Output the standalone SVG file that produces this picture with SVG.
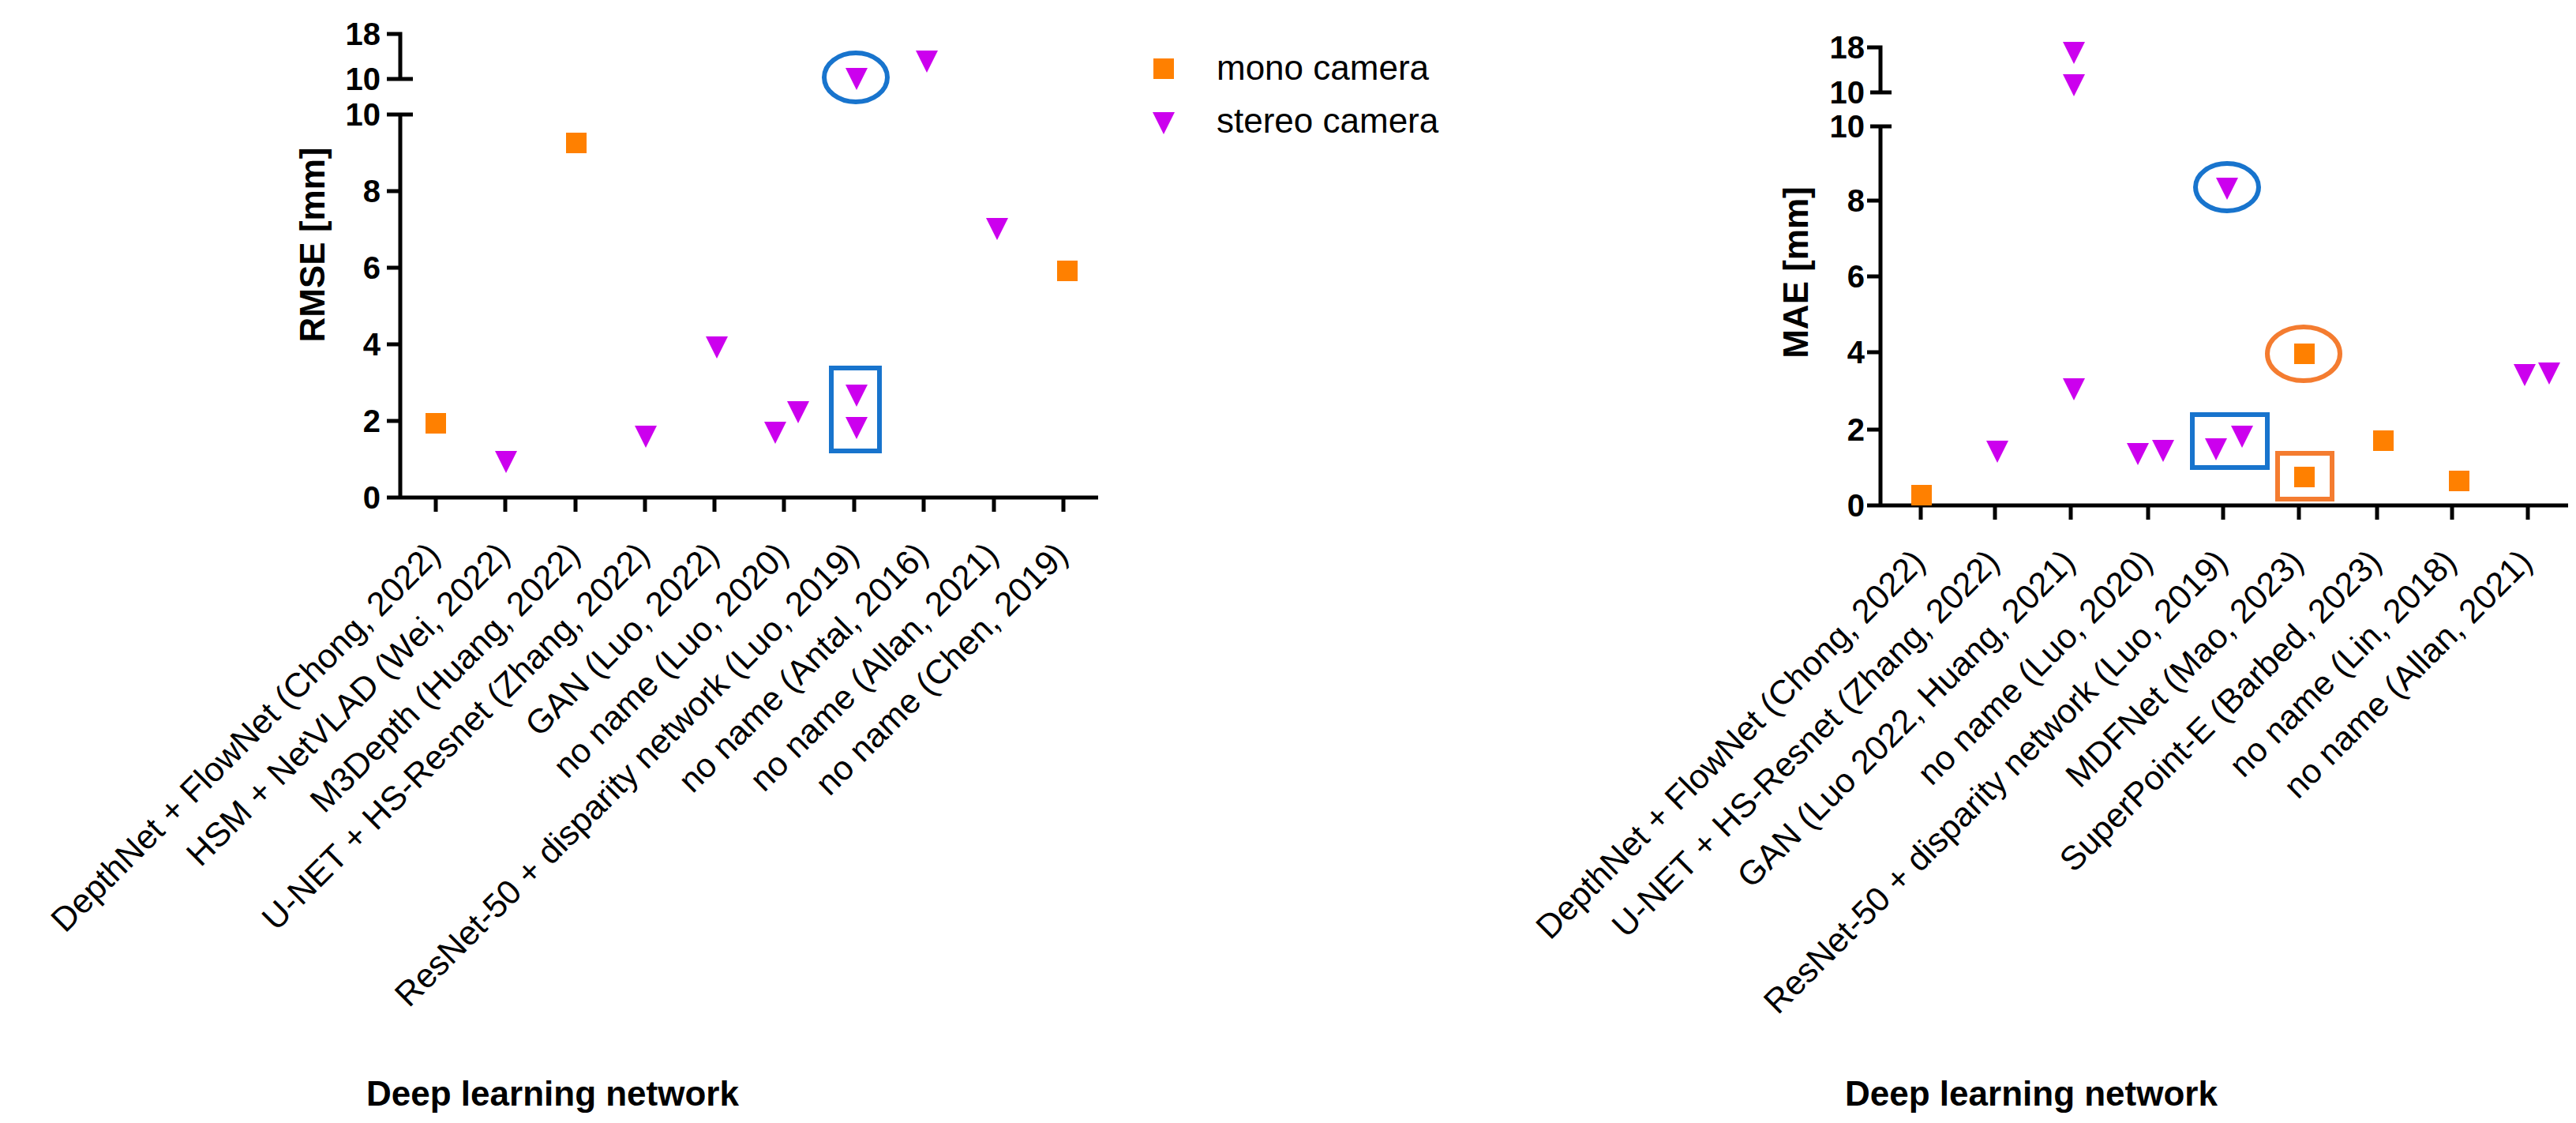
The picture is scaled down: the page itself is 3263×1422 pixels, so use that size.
<svg xmlns="http://www.w3.org/2000/svg" width="3263" height="1422" viewBox="0 0 3263 1422">
<style>
.ax{stroke:#000;stroke-width:5;fill:none}
.tk{font-family:"Liberation Sans",Arial,sans-serif;font-weight:bold;font-size:40px;text-anchor:end}
.xl{font-family:"Liberation Sans",Arial,sans-serif;font-size:43px;text-anchor:end}
.tt{font-family:"Liberation Sans",Arial,sans-serif;font-weight:bold;font-size:44px;text-anchor:middle}
.lg{font-family:"Liberation Sans",Arial,sans-serif;font-size:44px}
.mono{fill:#FF8000}
.st{fill:#CC00EE}
.blue{stroke:#1874CD;stroke-width:6;fill:none}
.org{stroke:#F47C30;stroke-width:6;fill:none}
</style>
<defs>
<rect id="sq" x="-13" y="-13" width="26" height="26" class="mono"/>
<polygon id="tri" points="-14,-13 14,-13 0,15" class="st"/>
</defs>
<rect width="3263" height="1422" fill="#fff"/>
<g id="rmse-chart">
<g id="rmse-axes">
<path class="ax" d="M490,43 H507 V100 M490,100 H523 M490,145 H523 M507,145 V630 H1391 M490,242 H507 M490,339 H507 M490,436 H507 M490,533 H507 M490,630 H507"/>
<path class="ax" d="M552,630 v18 M640,630 v18 M729,630 v18 M817,630 v18 M905,630 v18 M993,630 v18 M1082,630 v18 M1170,630 v18 M1259,630 v18 M1347,630 v18"/>
<text class="tk" x="482" y="57">18</text>
<text class="tk" x="482" y="114">10</text>
<text class="tk" x="482" y="159">10</text>
<text class="tk" x="482" y="256">8</text>
<text class="tk" x="482" y="353">6</text>
<text class="tk" x="482" y="450">4</text>
<text class="tk" x="482" y="547">2</text>
<text class="tk" x="482" y="644">0</text>
<text class="tt" transform="translate(411,310) rotate(-90)">RMSE [mm]</text>
<text class="tt" x="700" y="1400">Deep learning network</text>
</g>
<g id="rmse-labels">
<text class="xl" transform="translate(560,705) rotate(-45)">DepthNet + FlowNet (Chong, 2022)</text>
<text class="xl" transform="translate(648,705) rotate(-45)">HSM + NetVLAD (Wei, 2022)</text>
<text class="xl" transform="translate(737,705) rotate(-45)">M3Depth (Huang, 2022)</text>
<text class="xl" transform="translate(825,705) rotate(-45)">U-NET + HS-Resnet (Zhang, 2022)</text>
<text class="xl" transform="translate(913,705) rotate(-45)">GAN (Luo, 2022)</text>
<text class="xl" transform="translate(1001,705) rotate(-45)">no name (Luo, 2020)</text>
<text class="xl" transform="translate(1090,705) rotate(-45)">ResNet-50 + disparity network (Luo, 2019)</text>
<text class="xl" transform="translate(1178,705) rotate(-45)">no name (Antal, 2016)</text>
<text class="xl" transform="translate(1267,705) rotate(-45)">no name (Allan, 2021)</text>
<text class="xl" transform="translate(1355,705) rotate(-45)">no name (Chen, 2019)</text>
</g>
<g id="rmse-points">
<use href="#sq" x="552" y="536"/>
<use href="#tri" x="641" y="584"/>
<use href="#sq" x="730" y="181"/>
<use href="#tri" x="818" y="552"/>
<use href="#tri" x="908" y="439"/>
<use href="#tri" x="982" y="547"/>
<use href="#tri" x="1011" y="521"/>
<use href="#tri" x="1085" y="500"/>
<use href="#tri" x="1085" y="541"/>
<use href="#tri" x="1085" y="99"/>
<use href="#tri" x="1174" y="77"/>
<use href="#tri" x="1263" y="289"/>
<use href="#sq" x="1352" y="343"/>
</g>
<g id="rmse-highlights">
<ellipse class="blue" cx="1084" cy="98" rx="40" ry="31"/>
<rect class="blue" x="1053" y="466" width="61" height="105"/>
</g>
</g>
<g id="legend">
<use href="#sq" x="1474" y="87"/>
<use href="#tri" x="1474" y="155"/>
<text class="lg" x="1541" y="101">mono camera</text>
<text class="lg" x="1541" y="168">stereo camera</text>
</g>
<g id="mae-chart">
<g id="mae-axes">
<path class="ax" d="M2365,60 H2382 V117 M2369,117 H2396 M2369,160 H2396 M2382,160 V640 H3253 M2365,254 H2382 M2365,350 H2382 M2365,446 H2382 M2365,544 H2382 M2365,640 H2382"/>
<path class="ax" d="M2433,640 v18 M2527,640 v18 M2623,640 v18 M2721,640 v18 M2816,640 v18 M2912,640 v18 M3011,640 v18 M3106,640 v18 M3202,640 v18"/>
<text class="tk" x="2362" y="74">18</text>
<text class="tk" x="2362" y="131">10</text>
<text class="tk" x="2362" y="174">10</text>
<text class="tk" x="2362" y="268">8</text>
<text class="tk" x="2362" y="364">6</text>
<text class="tk" x="2362" y="460">4</text>
<text class="tk" x="2362" y="558">2</text>
<text class="tk" x="2362" y="654">0</text>
<text class="tt" transform="translate(2290,345) rotate(-90)">MAE [mm]</text>
<text class="tt" x="2573" y="1400">Deep learning network</text>
</g>
<g id="mae-labels">
<text class="xl" transform="translate(2441,714) rotate(-45)">DepthNet + FlowNet (Chong, 2022)</text>
<text class="xl" transform="translate(2535,714) rotate(-45)">U-NET + HS-Resnet (Zhang, 2022)</text>
<text class="xl" transform="translate(2631,714) rotate(-45)">GAN (Luo 2022, Huang, 2021)</text>
<text class="xl" transform="translate(2729,714) rotate(-45)">no name (Luo, 2020)</text>
<text class="xl" transform="translate(2824,714) rotate(-45)">ResNet-50 + disparity network (Luo, 2019)</text>
<text class="xl" transform="translate(2920,714) rotate(-45)">MDFNet (Mao, 2023)</text>
<text class="xl" transform="translate(3019,714) rotate(-45)">SuperPoint-E (Barbed, 2023)</text>
<text class="xl" transform="translate(3114,714) rotate(-45)">no name (Lin, 2018)</text>
<text class="xl" transform="translate(3210,714) rotate(-45)">no name (Allan, 2021)</text>
</g>
<g id="mae-points">
<use href="#sq" x="2434" y="627"/>
<use href="#tri" x="2530" y="571"/>
<use href="#tri" x="2627" y="66"/>
<use href="#tri" x="2627" y="107"/>
<use href="#tri" x="2627" y="492"/>
<use href="#tri" x="2708" y="574"/>
<use href="#tri" x="2740" y="570"/>
<use href="#tri" x="2807" y="568"/>
<use href="#tri" x="2840" y="552"/>
<use href="#tri" x="2821" y="238"/>
<use href="#sq" x="2919" y="448"/>
<use href="#sq" x="2919" y="604"/>
<use href="#sq" x="3019" y="558"/>
<use href="#sq" x="3115" y="609"/>
<use href="#tri" x="3198" y="474"/>
<use href="#tri" x="3229" y="472"/>
</g>
<g id="mae-highlights">
<ellipse class="blue" cx="2821" cy="237" rx="40" ry="30"/>
<rect class="blue" x="2777" y="525" width="95" height="67"/>
<ellipse class="org" cx="2918" cy="448" rx="46" ry="34"/>
<rect class="org" x="2885" y="574" width="69" height="58"/>
</g>
</g>
</svg>
